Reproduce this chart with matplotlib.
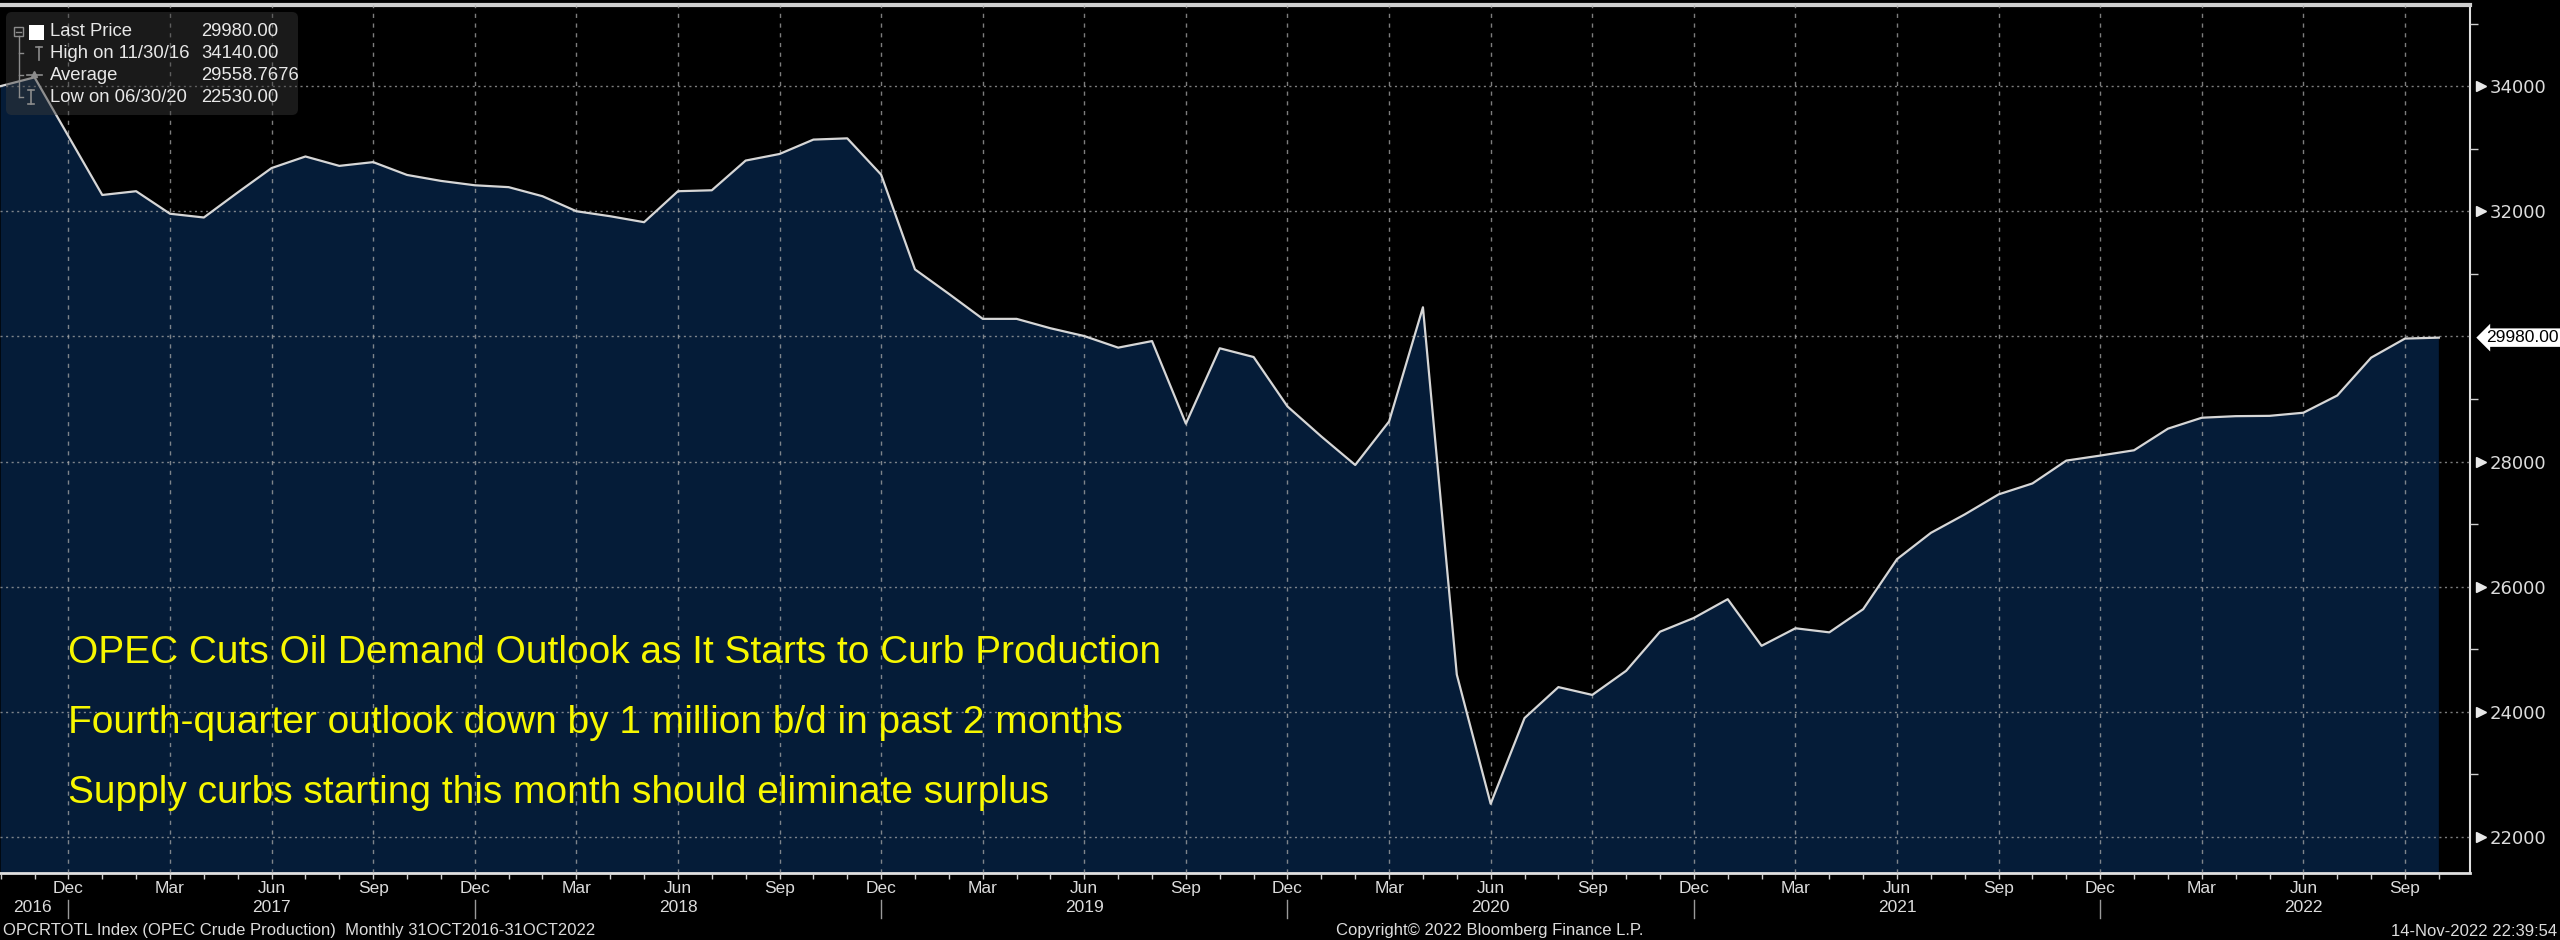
import numpy as np
import pandas as pd
import matplotlib
matplotlib.use("Agg")
import matplotlib.pyplot as plt
import matplotlib.transforms as mtransforms
from matplotlib.patches import FancyBboxPatch, Rectangle

# OPEC crude production, monthly, Oct 2016 - Oct 2022
dates = pd.date_range("2016-10-31", "2022-10-31", freq="ME")
production = [
    34000, 34140, 33200, 32260, 32320, 31960, 31900, 32300, 32690, 32875,
    32725, 32785, 32580, 32485, 32415, 32385, 32240, 32000, 31920, 31825,
    32320, 32335, 32810, 32915, 33145, 33165, 32585, 31070, 30680, 30280,
    30280, 30130, 30005, 29820, 29925, 28605, 29810, 29670, 28880, 28400,
    27945, 28640, 30465, 24595, 22530, 23900, 24395, 24270, 24655, 25280,
    25500, 25800, 25055, 25335, 25270, 25640, 26440, 26860, 27155, 27475,
    27650, 28015, 28095, 28180, 28525, 28700, 28725, 28730, 28780, 29055,
    29660, 29965, 29980,
]

y_major = [22000, 24000, 26000, 28000, 30000, 32000, 34000]
y_minor = [23000, 25000, 27000, 29000, 31000, 33000, 35000]
last_price = 29980
last_label = "29980.00"

legend_labels = ["Last Price", "High on 11/30/16", "Average", "Low on 06/30/20"]
legend_values = ["29980.00", "34140.00", "29558.7676", "22530.00"]

headlines = [
    "OPEC Cuts Oil Demand Outlook as It Starts to Curb Production",
    "Fourth-quarter outlook down by 1 million b/d in past 2 months",
    "Supply curbs starting this month should eliminate surplus",
]
footer_left = "OPCRTOTL Index (OPEC Crude Production)  Monthly 31OCT2016-31OCT2022"
footer_mid = "Copyright\u00a9 2022 Bloomberg Finance L.P."
footer_right = "14-Nov-2022 22:39:54"

NARROW = ["Liberation Sans Narrow", "Liberation Sans", "DejaVu Sans"]
TXT = "#dcdcdc"
FILL = "#051c38"

W, H = 2560, 940
fig = plt.figure(figsize=(W / 100, H / 100), dpi=100, facecolor="black")
ax = fig.add_axes([0.0, 1 - 873 / H, 2470 / W, (873 - 5) / H])
ax.set_facecolor("black")

x = np.arange(len(production))
ax.fill_between(x, production, 0, color=FILL, lw=0, zorder=1)
ax.plot(x, production, color="#d6d6d6", lw=1.6, zorder=3)

ax.set_xlim(-0.02, 72.92)
ax.set_ylim(21424, 35296)

# x axis: monthly minor ticks, quarterly labels
ax.set_xticks(x, minor=True)
qtr = [i for i, d in enumerate(dates) if d.month in (3, 6, 9, 12)]
ax.set_xticks(qtr)
ax.set_xticklabels([dates[i].strftime("%b") for i in qtr], family=NARROW,
                   fontsize=12.5, color=TXT)
ax.tick_params(axis="x", which="both", direction="out", length=4, width=1,
               color="#cfcfcf", pad=2)

# year labels + separators under the month row
blend = mtransforms.blended_transform_factory(ax.transData, fig.transFigure)
year_pos = [(0.95, "2016")] + [(i, str(dates[i].year)) for i, d in enumerate(dates) if d.month == 6]
for xp, yr in year_pos:
    fig.text(xp, 1 - 908 / H, yr, transform=blend, ha="center", va="center",
             family=NARROW, fontsize=12.5, color=TXT)
dec_idx = [i for i, d in enumerate(dates) if d.month == 12]
for i in dec_idx:
    fig.add_artist(plt.Line2D([i, i], [1 - 900 / H, 1 - 918 / H], transform=blend,
                              color="#9a9a9a", lw=1))

# y axis on the right
ax.yaxis.tick_right()
ax.set_yticks(y_major)
ax.set_yticklabels(["" if v == 30000 else str(v) for v in y_major], fontsize=13,
                   color=TXT, family=["DejaVu Sans"])
ax.set_yticks(y_minor, minor=True)
ax.tick_params(axis="y", which="major", length=0, pad=14)
ax.tick_params(axis="y", which="minor", length=6, width=1, color="#cfcfcf")
tri = [v for v in y_major if v != 30000]
ax.plot([1.0045] * len(tri), tri, ls="none", marker=">", ms=7, color="#e8e8e8",
        transform=ax.get_yaxis_transform(), clip_on=False, zorder=5)

# last price tag
ax.text(1.0065, last_price, last_label, transform=ax.get_yaxis_transform(),
        ha="left", va="center", fontsize=12.5, color="black", family=["Liberation Sans"],
        bbox=dict(boxstyle="larrow,pad=0.1", fc="white", ec="none"))

# grid
ax.set_axisbelow(False)
ax.xaxis.grid(True, which="major", color="#a8a8a8", lw=1, ls=(0, (3, 4)), alpha=0.75, zorder=2)
ax.yaxis.grid(True, which="major", color="#a8a8a8", lw=1, ls=(0, (1.5, 2.5)), alpha=0.75, zorder=2)

ax.spines["left"].set_visible(False)
ax.spines["right"].set_color("#e0e0e0")
ax.spines["right"].set_linewidth(1.5)
ax.spines["bottom"].set_color("#e0e0e0")
ax.spines["bottom"].set_linewidth(2)
ax.spines["top"].set_color("#cfcfcf")
ax.spines["top"].set_linewidth(3)

# headlines
for txt, base in zip(headlines, [663, 733, 803]):
    fig.text(68 / W, 1 - base / H, txt, ha="left", va="baseline", color="#f7f700",
             family=NARROW, fontsize=28)

# legend box (pixel coordinates overlay)
ov = fig.add_axes([0, 0, 1, 1], zorder=10)
ov.set_xlim(0, W)
ov.set_ylim(H, 0)
ov.axis("off")
ov.patch.set_alpha(0)
ov.add_patch(FancyBboxPatch((6, 12), 292, 103, boxstyle="round,pad=0,rounding_size=6",
                            fc="#3a3a3a", ec="none", alpha=0.45))
rows = [31, 53, 75, 97]
for lab, val, ry in zip(legend_labels, legend_values, rows):
    ov.text(50, ry, lab, ha="left", va="center", fontsize=13.3, color="#e8e8e8",
            family=["Liberation Sans"])
    ov.text(201, ry, val, ha="left", va="center", fontsize=13.3, color="#e8e8e8",
            family=["Liberation Sans"])
grey = "#8c8c8c"
ov.add_patch(Rectangle((14, 27), 9, 9, fc="none", ec=grey, lw=1))
ov.plot([16, 21], [31.5, 31.5], color=grey, lw=1)
ov.plot([18.5, 18.5], [36, 97], color=grey, lw=1)
for ry in rows[1:]:
    ov.plot([18.5, 23], [ry, ry], color=grey, lw=1)
ov.add_patch(Rectangle((29, 25), 15, 15, fc="white", ec="none"))
ov.plot([39, 39], [47, 60], color=grey, lw=1.2)
ov.plot([36, 42], [47, 47], color=grey, lw=1.2)
ov.plot([27, 42], [75, 75], color=grey, lw=1.2)
ov.plot([34], [74], marker="^", ms=5, color=grey)
ov.plot([31, 31], [90, 104], color=grey, lw=1.2)
ov.plot([28, 34], [90, 90], color=grey, lw=1.2)
ov.plot([28, 34], [104, 104], color=grey, lw=1.2)

# footer
fig.text(3 / W, 1 - 931 / H, footer_left, ha="left", va="center", family=NARROW,
         fontsize=12, color=TXT)
fig.text(1490 / W, 1 - 931 / H, footer_mid, ha="center", va="center", family=NARROW,
         fontsize=12, color=TXT)
fig.text(2557 / W, 1 - 931 / H, footer_right, ha="right", va="center", family=NARROW,
         fontsize=12, color=TXT)

fig.savefig("out.png", dpi=100, facecolor="black")
